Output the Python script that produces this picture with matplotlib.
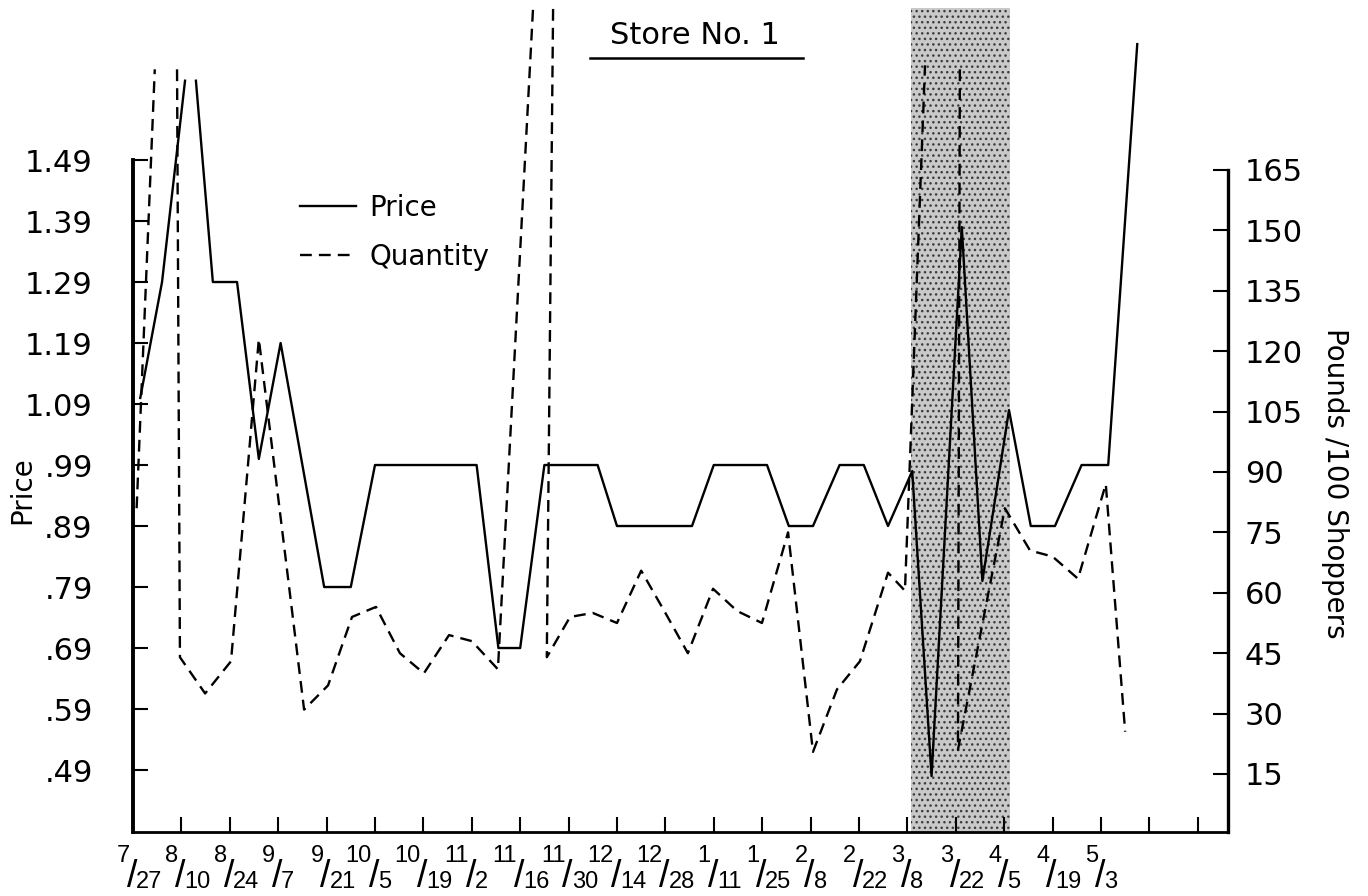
import numpy as np
import matplotlib
matplotlib.use("Agg")
import matplotlib.pyplot as plt
from matplotlib.lines import Line2D

nan = np.nan

# ---------------- data (x = weeks since 7/27) ----------------
date_labels = ["7/27", "8/10", "8/24", "9/7", "9/21", "10/5", "10/19", "11/2",
               "11/16", "11/30", "12/14", "12/28", "1/11", "1/25", "2/8",
               "2/22", "3/8", "3/22", "4/5", "4/19", "5/3"]
label_weeks = list(range(0, 41, 2))
extra_tick_weeks = [42, 44]

price_weeks = [0.3, 1.2, 2.15, nan, 2.6, 3.3, 4.3, 5.2, 6.1, 7.9, 9.0, 10.0,
               14.2, 15.1, 16.0, 17.0, 19.2, 20.0, 23.1, 24.0, 26.2, 27.1,
               28.1, 29.2, 30.2, 31.2, 32.2, 33.0, 34.25, 35.1, 36.2, 37.1,
               38.1, 39.2, 40.3, 41.5]
price_values = [1.10, 1.29, 1.62, nan, 1.62, 1.29, 1.29, 1.00, 1.19, 0.79, 0.79,
                0.99, 0.99, 0.69, 0.69, 0.99, 0.99, 0.89, 0.89, 0.99, 0.99,
                0.89, 0.89, 0.99, 0.99, 0.89, 0.98, 0.48, 1.38, 0.80, 1.08,
                0.89, 0.89, 0.99, 0.99, 1.68]

qty_weeks = [0.15, 0.9, nan, 1.82, 1.94, 2.98, 4.05, 5.2, 7.07, 8.06, 9.05,
             10.04, 11.03, 12.02, 13.06, 14.0, 15.08, 16.53, nan, 17.36, 17.1,
             18.06, 19.0, 20.0, 21.0, 22.0, 22.93, 23.97, 24.96, 25.99, 27.07,
             28.1, 29.09, 30.04, 31.2, 31.9, 32.73, nan, 34.17, 34.09, 36.03,
             37.07, 38.0, 39.05, 40.2, 41.0]
qty_values = [81, 190, nan, 190, 44, 35, 43, 123, 31, 37, 54, 56.5, 45, 40,
              49.5, 48, 41, 205, nan, 205, 44, 54, 55, 52.5, 65.5, 55, 45, 61,
              55.5, 52.5, 75, 20.5, 36, 43, 65, 60.5, 191, nan, 190, 21, 81,
              70.5, 69, 63.5, 87, 25.5]

price_ticks = [1.49, 1.39, 1.29, 1.19, 1.09, 0.99, 0.89, 0.79, 0.69, 0.59, 0.49]
price_tick_labels = ["1.49", "1.39", "1.29", "1.19", "1.09", ".99", ".89",
                     ".79", ".69", ".59", ".49"]
qty_ticks = [165, 150, 135, 120, 105, 90, 75, 60, 45, 30, 15]

promo_start, promo_end = 32.15, 36.25

# ---------------- figure ----------------
W, H = 1368, 896
fig = plt.figure(figsize=(W / 100, H / 100), dpi=100)
ax = fig.add_axes([133 / W, 64 / H, 1095 / W, 824 / H])
ax.set_xlim(0, 45.25)
ax.set_ylim(0.3884, 1.7392)
ax2 = ax.twinx()
ax2.set_ylim(0.596, 205.23)

# shaded period
ax.axvspan(promo_start, promo_end, facecolor="#c9c9c9", edgecolor="#3c3c3c",
           hatch="...", linewidth=0, zorder=0)

# lines
lp, = ax.plot(price_weeks, price_values, color="black", lw=1.7, label="Price",
              zorder=3)
lq, = ax2.plot(qty_weeks, qty_values, color="black", lw=1.7,
               linestyle=(0, (5, 3)), label="Quantity", zorder=3)

# spines
for s in ["top", "right"]:
    ax.spines[s].set_visible(False)
for s in ["top", "left", "bottom"]:
    ax2.spines[s].set_visible(False)
ax.spines["left"].set_bounds(0.3884, 1.49)
ax.spines["left"].set_linewidth(2.8)
ax.spines["bottom"].set_linewidth(2.0)
ax2.spines["right"].set_bounds(0.596, 165)
ax2.spines["right"].set_linewidth(2.4)

# y ticks
ax.set_yticks(price_ticks, labels=price_tick_labels)
ax.tick_params(axis="y", direction="in", length=11, width=1.5, pad=29,
               labelsize=22)
ax2.set_yticks(qty_ticks, labels=[str(v) for v in qty_ticks])
ax2.tick_params(axis="y", direction="in", length=11, width=1.5, pad=12,
                labelsize=22)

# x ticks: stacked-fraction date labels (numerator / denominator)
ax.set_xticks(label_weeks + extra_tick_weeks)
ax.set_xticklabels([""] * (len(label_weeks) + len(extra_tick_weeks)))
ax.tick_params(axis="x", direction="in", length=11, width=1.5)
xy_tr = ("data", "axes fraction")
for wk, d in zip(label_weeks, date_labels):
    num, den = d.split("/")
    ax.annotate(num, xy=(wk, 0), xycoords=xy_tr, xytext=(-3, -30),
                textcoords="offset pixels", ha="right", va="baseline",
                fontsize=17, family="Liberation Sans", annotation_clip=False)
    ax.annotate("/", xy=(wk, 0), xycoords=xy_tr, xytext=(-1, -55),
                textcoords="offset pixels", ha="center", va="baseline",
                fontsize=27, family="Liberation Sans", annotation_clip=False)
    ax.annotate(den, xy=(wk, 0), xycoords=xy_tr, xytext=(3, -56),
                textcoords="offset pixels", ha="left", va="baseline",
                fontsize=17, family="Liberation Sans", annotation_clip=False)

# legend
ax.legend(handles=[lp, lq], loc="upper left", frameon=False, fontsize=20,
          handlelength=2.0, handletextpad=0.5, labelspacing=0.75, borderpad=0,
          borderaxespad=0, bbox_to_anchor=(300 / W, 1 - 194 / H),
          bbox_transform=fig.transFigure)

# titles / labels
fig.text(695 / W, 1 - 36 / H, "Store No. 1", ha="center", va="center",
         fontsize=22)
fig.add_artist(Line2D([590 / W, 803 / W], [1 - 58 / H, 1 - 58 / H],
                      transform=fig.transFigure, color="black", lw=1.8))
fig.text(22 / W, 1 - 490 / H, "Price", rotation=90, ha="center", va="center",
         fontsize=20)
fig.text(1335 / W, 1 - 483 / H, "Pounds /100 Shoppers", rotation=270,
         ha="center", va="center", fontsize=20)

fig.savefig("out.png", dpi=100)
